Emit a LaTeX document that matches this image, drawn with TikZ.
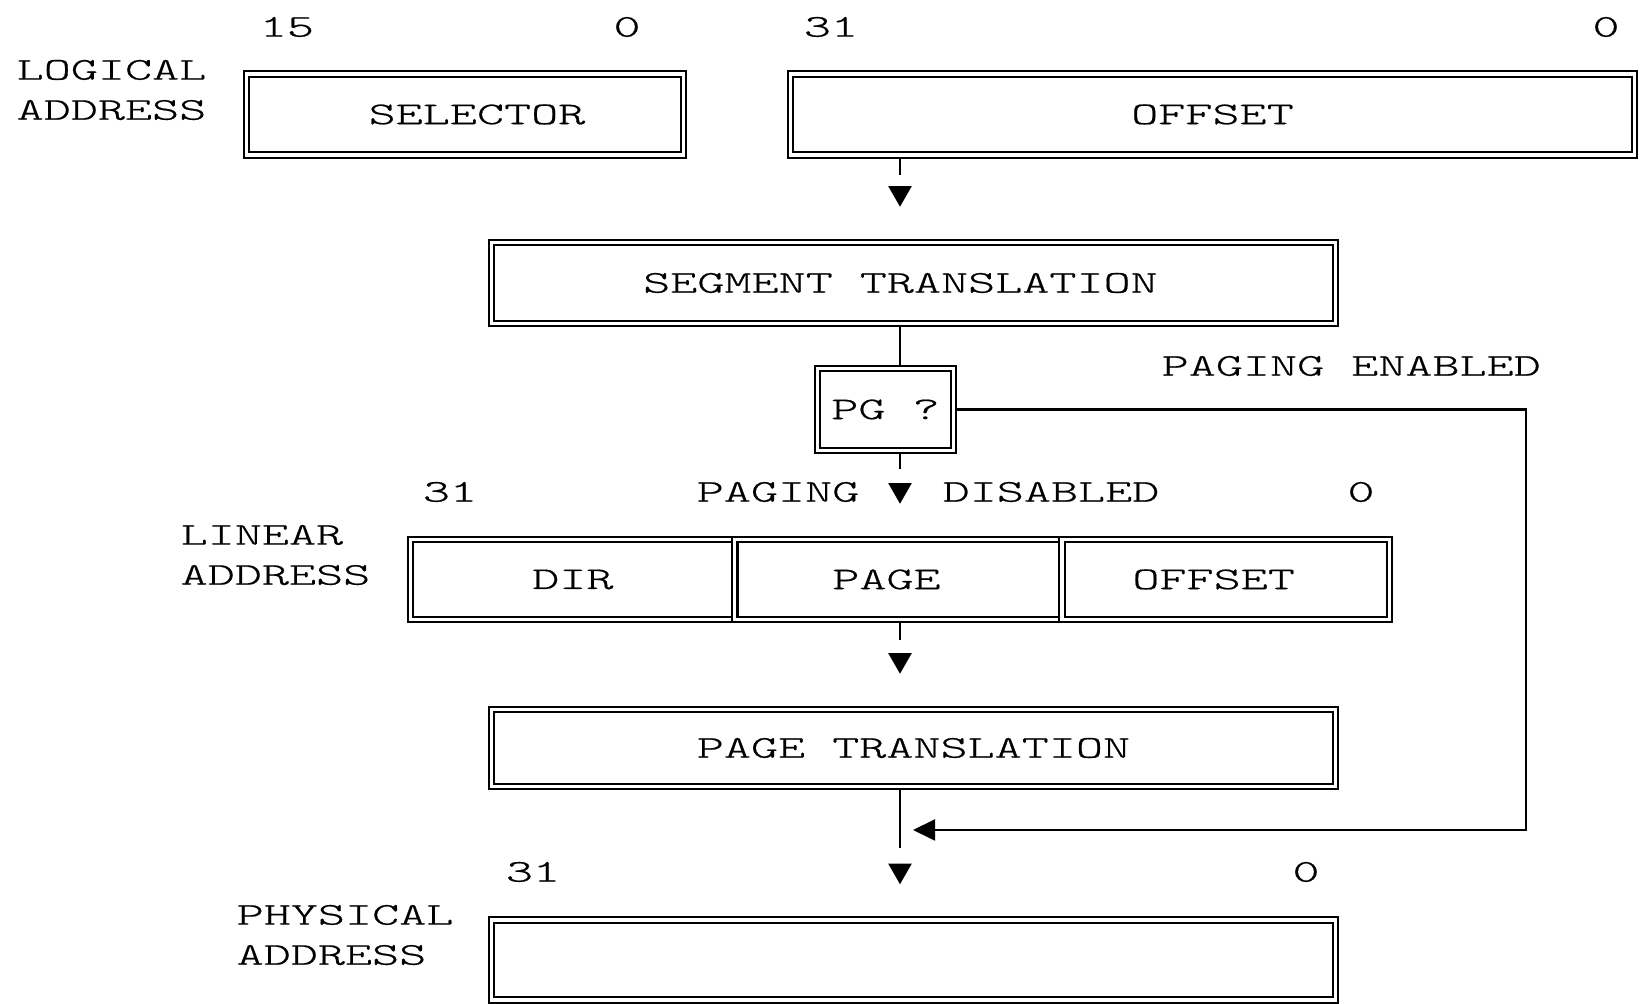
\documentclass[tikz,border=0pt]{standalone}
\usepackage{fontspec}
\newfontfamily\addrfont{lmmonolt10-regular.otf}[FakeStretch=1.63,FakeBold=0.6]
\usetikzlibrary{arrows.meta,positioning}

\begin{document}
\begin{tikzpicture}[x=0.01cm, y=-0.01cm,
  every node/.style={font=\addrfont\fontsize{9pt}{11.4pt}\selectfont, inner sep=0pt},
  regbox/.style={draw, double, line width=0.6pt, double distance=0.9pt, outer sep=1.05pt, minimum height=0.81cm},
  sidelabel/.style={anchor=west, align=left},
  flow/.style={line width=0.6pt},
  stemflow/.style={flow, -{Triangle[width=6.6pt,length=5.9pt]}, shorten >=0.32cm, dash pattern=on #1 off 0.16cm on 3cm},
  loopflow/.style={flow, -{Triangle[width=6pt,length=6.3pt]}},
]
\useasboundingbox (0,0) rectangle (1644,1004);

% logical address
\node[sidelabel] (logical) at (16,90) {LOGICAL\\ADDRESS};
\node[regbox, minimum width=4.37cm] (sel) at (465,114.5) {\hspace*{0.24cm}SELECTOR};
\node[regbox, minimum width=8.44cm] (off) at (1212.5,114.5) {OFFSET};
\node (selhi) at (287,27) {15};
\node (sello) at (627,27) {0};
\node (offhi) at (831,27) {31};
\node (offlo) at (1606,27) {0};

% segmentation and the PG test
\node[regbox, minimum width=8.44cm] (seg) at (913.5,283) {SEGMENT TRANSLATION\hspace*{0.26cm}};
\node[regbox, minimum width=1.36cm, minimum height=0.82cm] (pg) at (885.5,409.5) {PG ?};
\node[anchor=west] (pagingon) at (1161,366) {PAGING ENABLED};
\node[anchor=east] (pagingoff) at (860,492) {PAGING};
\node[anchor=west] (disabled) at (942,492) {DISABLED};

% linear address
\node[sidelabel] (linear) at (180,555) {LINEAR\\ADDRESS};
\node[regbox, minimum width=3.243cm, minimum height=0.80cm] (dir) at (572.9,579.5) {DIR};
\node[regbox, minimum width=3.27cm, minimum height=0.80cm] (page) at (898.5,579.5) {PAGE\hspace*{0.24cm}};
\node[regbox, minimum width=3.273cm, minimum height=0.80cm] (loff) at (1225.7,579.5) {OFFSET\hspace*{0.24cm}};
\node (linhi) at (450,492) {31};
\node (linlo) at (1361,492) {0};

% paging and physical address
\node[regbox, minimum width=8.44cm, minimum height=0.77cm] (ptr) at (913.5,748) {PAGE TRANSLATION};
\node[sidelabel] (physical) at (236,935) {PHYSICAL\\ADDRESS};
\node[regbox, minimum width=8.44cm, minimum height=0.80cm] (phys) at (913.5,960) {};
\node (phyhi) at (533,872) {31};
\node (phylo) at (1306,872) {0};

% connectors
\coordinate (axis) at (900,0);
\coordinate (turn) at (1526,830);
\coordinate (join) at (913,830);
\draw[stemflow=0.16cm] (off.south -| axis) -- (seg.north -| axis);
\draw[flow] (seg.south -| axis) -- (pg.north -| axis);
\draw[stemflow=0.15cm] (pg.south -| axis) -- (page.north -| axis);
\draw[stemflow=0.17cm] (page.south -| axis) -- (ptr.north -| axis);
\draw[stemflow=0.58cm] (ptr.south -| axis) -- (phys.north -| axis);
\draw[loopflow] (pg.east) -| (turn) -- (join);

\end{tikzpicture}
\end{document}
